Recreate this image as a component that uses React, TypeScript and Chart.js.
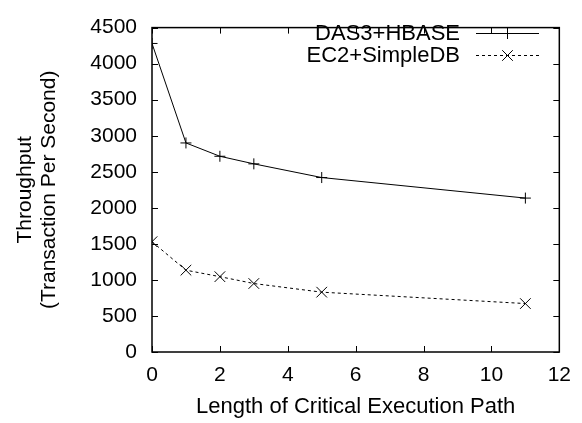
import React, { useEffect, useRef } from "react";
import { Chart, registerables } from "chart.js";

Chart.register(...registerables);

const pathLengths = [0, 1, 2, 3, 5, 11];
const das3Hbase = [4280, 2900, 2715, 2610, 2420, 2135];
const ec2SimpleDb = [1530, 1135, 1045, 950, 830, 672];
const seriesNames = ["DAS3+HBASE", "EC2+SimpleDB"];
const xTitle = "Length of Critical Execution Path";
const yTitle = ["Throughput", "(Transaction Per Second)"];

const FONT = "'Liberation Sans', Arial, Helvetica, sans-serif";

function drawMarker(ctx: CanvasRenderingContext2D, style: string, x: number, y: number, r: number) {
  ctx.beginPath();
  if (style === "cross") {
    ctx.moveTo(x - r, y);
    ctx.lineTo(x + r, y);
    ctx.moveTo(x, y - r);
    ctx.lineTo(x, y + r);
  } else {
    const d = r * Math.SQRT1_2;
    ctx.moveTo(x - d, y - d);
    ctx.lineTo(x + d, y + d);
    ctx.moveTo(x - d, y + d);
    ctx.lineTo(x + d, y - d);
  }
  ctx.stroke();
}

const framePlugin = {
  id: "gnuFrame",
  afterDraw(chart: any) {
    const { ctx, chartArea } = chart;
    const { left, right, top, bottom } = chartArea;
    const xs = chart.scales.x;
    const ys = chart.scales.y;
    const tl = 6;
    ctx.save();
    ctx.strokeStyle = "#000";
    ctx.lineWidth = 1;
    ctx.beginPath();
    xs.ticks.forEach((t: any) => {
      const px = Math.round(xs.getPixelForValue(t.value)) + 0.5;
      ctx.moveTo(px, bottom);
      ctx.lineTo(px, bottom - tl);
      ctx.moveTo(px, top);
      ctx.lineTo(px, top + tl);
    });
    ys.ticks.forEach((t: any) => {
      const py = Math.round(ys.getPixelForValue(t.value)) + 0.5;
      ctx.moveTo(left, py);
      ctx.lineTo(left + tl, py);
      ctx.moveTo(right, py);
      ctx.lineTo(right - tl, py);
    });
    ctx.stroke();
    ctx.lineWidth = 1.5;
    ctx.strokeRect(left, top, right - left, bottom - top);

    // legend
    const textRight = 460;
    const lineX0 = 476;
    const lineX1 = 539;
    const rows = [33, 55];
    ctx.font = `22px ${FONT}`;
    ctx.fillStyle = "#000";
    ctx.textAlign = "right";
    ctx.textBaseline = "middle";
    chart.data.datasets.forEach((ds: any, i: number) => {
      const y = rows[i];
      ctx.fillText(ds.label, textRight, y + 1);
      ctx.save();
      ctx.lineWidth = 1;
      ctx.setLineDash(ds.borderDash || []);
      ctx.beginPath();
      ctx.moveTo(lineX0, y + 0.5);
      ctx.lineTo(lineX1, y + 0.5);
      ctx.stroke();
      ctx.setLineDash([]);
      drawMarker(ctx, ds.pointStyle, (lineX0 + lineX1) / 2, y + 0.5, ds.pointRadius);
      ctx.restore();
    });
    ctx.restore();
  },
};

export default function App() {
  const canvasRef = useRef<HTMLCanvasElement | null>(null);

  useEffect(() => {
    if (!canvasRef.current) return;
    const chart = new Chart(canvasRef.current, {
      type: "line",
      data: {
        datasets: [
          {
            label: seriesNames[0],
            data: pathLengths.map((x, i) => ({ x, y: das3Hbase[i] })),
            borderColor: "#000",
            backgroundColor: "#000",
            borderWidth: 1,
            pointStyle: "cross",
            pointRadius: 5.5,
            pointBorderWidth: 1,
            pointBorderColor: "#000",
            tension: 0,
            fill: false,
          },
          {
            label: seriesNames[1],
            data: pathLengths.map((x, i) => ({ x, y: ec2SimpleDb[i] })),
            borderColor: "#000",
            backgroundColor: "#000",
            borderWidth: 1,
            borderDash: [3, 3],
            pointStyle: "crossRot",
            pointRadius: 7.5,
            pointBorderWidth: 1,
            pointBorderColor: "#000",
            tension: 0,
            fill: false,
          },
        ],
      },
      options: {
        responsive: false,
        animation: false,
        layout: { padding: { top: 15, right: 15, left: 0, bottom: 0 } },
        plugins: {
          legend: { display: false },
          tooltip: { enabled: false },
        },
        scales: {
          x: {
            type: "linear",
            min: 0,
            max: 12,
            grid: { display: false, drawTicks: false },
            border: { display: false },
            ticks: {
              stepSize: 2,
              color: "#000",
              padding: 11,
              maxRotation: 0,
              font: { family: FONT, size: 21 },
              callback: (v: any) => String(v),
            },
            title: {
              display: true,
              text: xTitle,
              color: "#000",
              font: { family: FONT, size: 22 },
              padding: { top: 0, bottom: 3 },
            },
            afterFit(scale: any) {
              scale.height = 71;
            },
          },
          y: {
            type: "linear",
            min: 0,
            max: 4500,
            grid: { display: false, drawTicks: false },
            border: { display: false },
            ticks: {
              stepSize: 500,
              color: "#000",
              padding: 15,
              font: { family: FONT, size: 21 },
              callback: (v: any) => String(v),
            },
            title: {
              display: true,
              text: yTitle,
              color: "#000",
              font: { family: FONT, size: 21, lineHeight: 1.15 },
              padding: { top: 13, bottom: 0 },
            },
            afterFit(scale: any) {
              scale.width = 152;
            },
          },
        },
      },
      plugins: [framePlugin],
    });
    return () => chart.destroy();
  }, []);

  return (
    <div style={{ position: "absolute", left: 0, top: 0, width: 582, height: 423, background: "#fff" }}>
      <canvas ref={canvasRef} width={582} height={423} style={{ display: "block" }} />
    </div>
  );
}
